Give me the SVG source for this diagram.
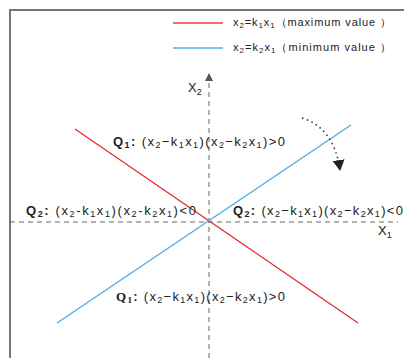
<svg xmlns="http://www.w3.org/2000/svg" width="404" height="358" viewBox="0 0 404 358">
<style>
text{font-family:"Liberation Sans",Arial,sans-serif;fill:#222;font-size:13px}
.s{font-size:9px}
.leg{font-size:11px}
.lg{font-size:8px}
.axis{stroke:#666;stroke-width:1;stroke-dasharray:5,4;fill:none}
</style>
<defs>
<marker id="ah" markerWidth="8" markerHeight="8" refX="7" refY="4" orient="auto" markerUnits="userSpaceOnUse"><path d="M0,0 L8,4 L0,8 Z" fill="#555"/></marker>
<marker id="ah2" markerWidth="12" markerHeight="12" refX="10" refY="6" orient="auto" markerUnits="userSpaceOnUse"><path d="M0,0 L11,6 L0,12 Z" fill="#222"/></marker>
</defs>
<rect width="404" height="358" fill="#fff"/>
<g id="frame"><path d="M10,358 V10 H404" fill="none" stroke="#777" stroke-width="2"/></g>
<g id="legend">
<line x1="173" y1="23" x2="223" y2="23" stroke="#e8404a" stroke-width="1.3"/>
<text class="leg" x="233" y="26" textLength="158" lengthAdjust="spacing">x<tspan class="lg" dy="2">2</tspan><tspan dy="-2">=k</tspan><tspan class="lg" dy="2">1</tspan><tspan dy="-2">x</tspan><tspan class="lg" dy="2">1</tspan><tspan dy="-2">（maximum value ）</tspan></text>
<line x1="173" y1="48" x2="223" y2="48" stroke="#5aaee6" stroke-width="1.3"/>
<text class="leg" x="233" y="51" textLength="158" lengthAdjust="spacing">x<tspan class="lg" dy="2">2</tspan><tspan dy="-2">=k</tspan><tspan class="lg" dy="2">2</tspan><tspan dy="-2">x</tspan><tspan class="lg" dy="2">1</tspan><tspan dy="-2">（minimum  value ）</tspan></text>
</g>
<g id="connectors">
<line class="axis" x1="209" y1="358" x2="209" y2="74" marker-end="url(#ah)"/>
<line class="axis" x1="10" y1="222" x2="398" y2="222"/>
<line x1="75" y1="129" x2="358" y2="323" stroke="#e82a35" stroke-width="1.3"/>
<line x1="57" y1="323" x2="351" y2="125" stroke="#4ea8e2" stroke-width="1.3"/>
<path d="M302,118 Q334,128 340,170" fill="none" stroke="#333" stroke-width="1.5" stroke-dasharray="1.5,3.5" marker-end="url(#ah2)"/>
</g>
<g id="axis-labels">
<text x="188" y="92" font-size="13" fill="#333">X<tspan class="s" dy="3">2</tspan></text>
<text x="378" y="235" font-size="13" fill="#333">X<tspan class="s" dy="3">1</tspan></text>
</g>
<g id="q1-top"><text x="113" y="146" textLength="172" lengthAdjust="spacing"><tspan font-weight="bold">Q</tspan><tspan class="s" font-weight="bold" dy="2">1</tspan><tspan font-weight="bold" dy="-2">:</tspan>  (x<tspan class="s" dy="2">2</tspan><tspan dy="-2">−k</tspan><tspan class="s" dy="2">1</tspan><tspan dy="-2">x</tspan><tspan class="s" dy="2">1</tspan><tspan dy="-2">)(x</tspan><tspan class="s" dy="2">2</tspan><tspan dy="-2">−k</tspan><tspan class="s" dy="2">2</tspan><tspan dy="-2">x</tspan><tspan class="s" dy="2">1</tspan><tspan dy="-2">)&gt;0</tspan></text></g>
<g id="q2-left"><text x="26" y="215" textLength="170" lengthAdjust="spacing"><tspan font-weight="bold">Q</tspan><tspan class="s" font-weight="bold" dy="2">2</tspan><tspan font-weight="bold" dy="-2">:</tspan>  (x<tspan class="s" dy="2">2</tspan><tspan dy="-2">-k</tspan><tspan class="s" dy="2">1</tspan><tspan dy="-2">x</tspan><tspan class="s" dy="2">1</tspan><tspan dy="-2">)(x</tspan><tspan class="s" dy="2">2</tspan><tspan dy="-2">-k</tspan><tspan class="s" dy="2">2</tspan><tspan dy="-2">x</tspan><tspan class="s" dy="2">1</tspan><tspan dy="-2">)&lt;0</tspan></text></g>
<g id="q2-right"><text x="233" y="215" textLength="170" lengthAdjust="spacing"><tspan font-weight="bold">Q</tspan><tspan class="s" font-weight="bold" dy="2">2</tspan><tspan font-weight="bold" dy="-2">:</tspan>  (x<tspan class="s" dy="2">2</tspan><tspan dy="-2">−k</tspan><tspan class="s" dy="2">1</tspan><tspan dy="-2">x</tspan><tspan class="s" dy="2">1</tspan><tspan dy="-2">)(x</tspan><tspan class="s" dy="2">2</tspan><tspan dy="-2">−k</tspan><tspan class="s" dy="2">2</tspan><tspan dy="-2">x</tspan><tspan class="s" dy="2">1</tspan><tspan dy="-2">)&lt;0</tspan></text></g>
<g id="q1-bottom"><text x="116" y="301" textLength="169" lengthAdjust="spacing"><tspan font-weight="bold" font-family="Liberation Serif, serif">Q</tspan><tspan class="s" font-weight="bold" font-family="Liberation Serif, serif" dy="2">1</tspan><tspan font-weight="bold" dy="-2">:</tspan>  (x<tspan class="s" dy="2">2</tspan><tspan dy="-2">−k</tspan><tspan class="s" dy="2">1</tspan><tspan dy="-2">x</tspan><tspan class="s" dy="2">1</tspan><tspan dy="-2">)(x</tspan><tspan class="s" dy="2">2</tspan><tspan dy="-2">−k</tspan><tspan class="s" dy="2">2</tspan><tspan dy="-2">x</tspan><tspan class="s" dy="2">1</tspan><tspan dy="-2">)&gt;0</tspan></text></g>
</svg>
